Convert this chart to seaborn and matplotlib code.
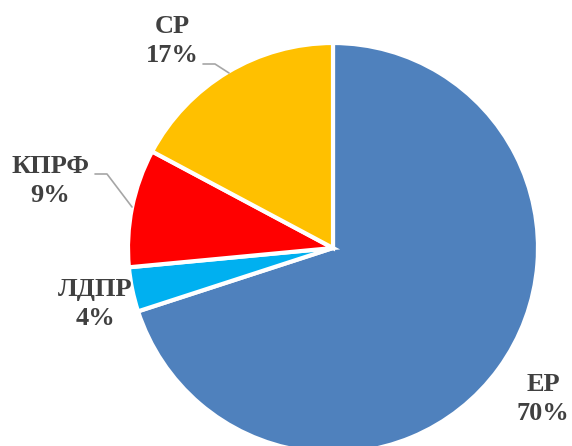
import matplotlib
matplotlib.use("Agg")
import matplotlib.pyplot as plt
import seaborn as sns

# data
parties = ["ЕР", "ЛДПР", "КПРФ", "СР"]
shares = [70.0, 3.5, 9.3, 17.2]
colors = ["#4F81BD", "#00B0F0", "#FF0000", "#FFC000"]

# label centres (pixels, y from top) and leader lines
label_pos = {"ЕР": (543, 399), "ЛДПР": (95, 304), "КПРФ": (50, 181), "СР": (172, 41)}
leaders = {"СР": [(203, 64), (215, 64), (229, 73)],
           "КПРФ": [(95, 174), (107, 174), (132, 207)]}

sns.set_style("white")
plt.rcParams['font.family'] = ['Liberation Serif', 'DejaVu Serif']

W, H = 572, 446
fig = plt.figure(figsize=(W / 100, H / 100), dpi=100)
ax = fig.add_axes([0, 0, 1, 1])
ax.set_xlim(0, W)
ax.set_ylim(0, H)
ax.set_aspect("equal")
ax.axis("off")

ax.pie(shares, colors=colors, startangle=90, counterclock=False,
       center=(333, H - 248), radius=205,
       wedgeprops=dict(edgecolor="white", linewidth=3))
ax.set_xlim(0, W)
ax.set_ylim(0, H)

for name, val in zip(parties, shares):
    x, y = label_pos[name]
    ax.text(x, H - y, f"{name}\n{val:.0f}%", ha="center", va="center",
            fontsize=19, fontweight="bold", color="#404040", linespacing=1.3)

for name, pts in leaders.items():
    xs = [p[0] for p in pts]
    ys = [H - p[1] for p in pts]
    ax.plot(xs, ys, color="#A6A6A6", lw=1.2)

fig.savefig("out.png", dpi=100)
